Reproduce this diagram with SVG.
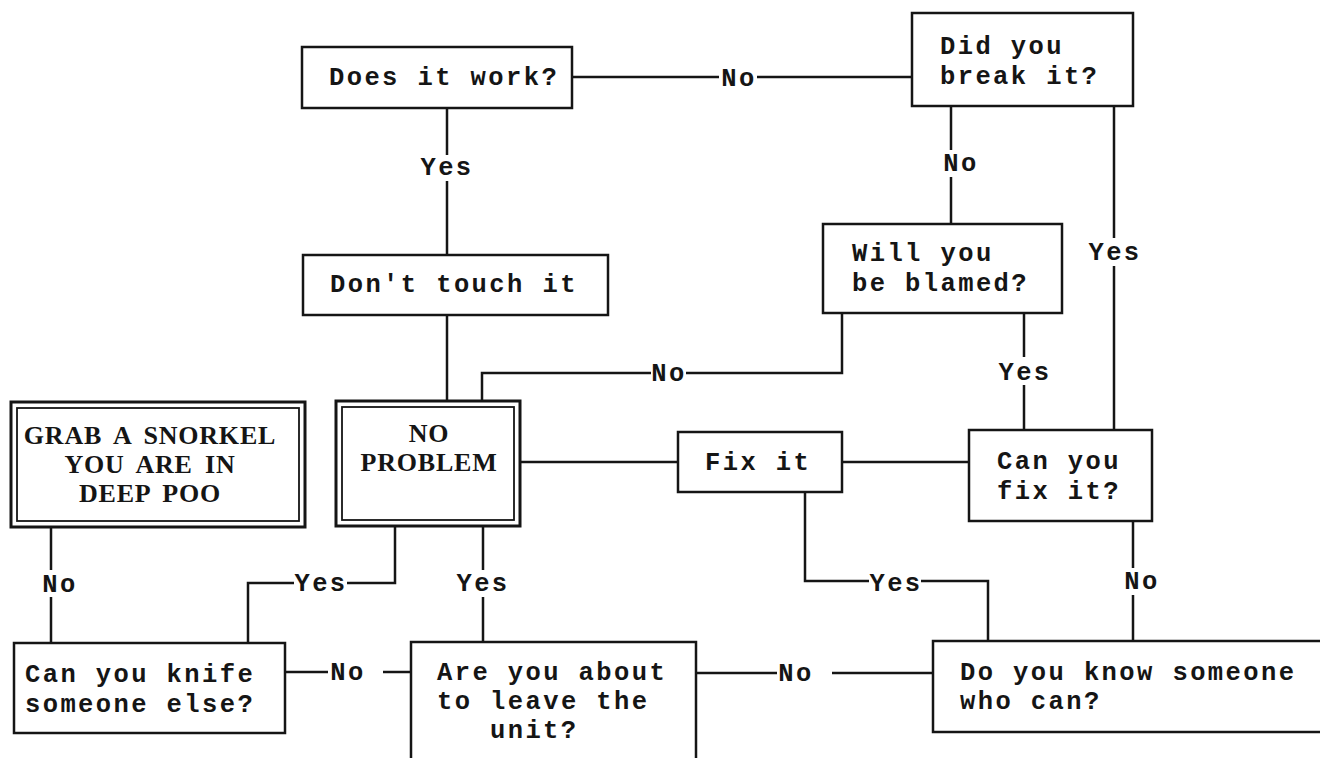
<svg xmlns="http://www.w3.org/2000/svg" width="1320" height="758" viewBox="0 0 1320 758">
<style>
.box{fill:#fff;stroke:#151515;stroke-width:2.5}
.dbl{fill:#fff;stroke:#151515;stroke-width:3}
.dbli{fill:none;stroke:#151515;stroke-width:1.8}
.t{font-family:"Liberation Mono","Courier New",monospace;font-weight:bold;font-size:25.5px;letter-spacing:2.4px;fill:#151515}
.s{font-family:"Liberation Serif","Times New Roman",serif;font-weight:bold;font-size:26px;letter-spacing:0.8px;word-spacing:5px;fill:#151515;text-anchor:middle}
.lbl{font-family:"Liberation Mono","Courier New",monospace;font-weight:bold;font-size:25.5px;letter-spacing:2.4px;fill:#151515;text-anchor:middle}
.c{fill:none;stroke:#151515;stroke-width:2.5}
</style>
<rect width="1320" height="758" fill="#fff"/>
<g id="connectors">
<path class="c" d="M572,77 H719 M757,77 H912"/>
<path class="c" d="M447,108 V155 M447,181 V255"/>
<path class="c" d="M447,315 V402"/>
<path class="c" d="M951,106 V150 M951,177 V224"/>
<path class="c" d="M1114,106 V238 M1114,266 V430"/>
<path class="c" d="M842,313 V373 H686 M651,373 H482 V402"/>
<path class="c" d="M1024,313 V357 M1024,385 V430"/>
<path class="c" d="M520,462 H678"/>
<path class="c" d="M842,462 H969"/>
<path class="c" d="M805,492 V581 H869 M921,581 H988 V641"/>
<path class="c" d="M1133,521 V568 M1133,595 V641"/>
<path class="c" d="M395,526 V583 H347 M294,583 H248 V643"/>
<path class="c" d="M483,526 V570 M483,597 V642"/>
<path class="c" d="M51,527 V570 M51,597 V643"/>
<path class="c" d="M285,672 H328 M383,672 H411"/>
<path class="c" d="M696,673 H777 M832,673 H933"/>
<text class="lbl" x="739" y="86">No</text>
<text class="lbl" x="447" y="175">Yes</text>
<text class="lbl" x="961" y="171">No</text>
<text class="lbl" x="1115" y="260">Yes</text>
<text class="lbl" x="669" y="381">No</text>
<text class="lbl" x="1025" y="380">Yes</text>
<text class="lbl" x="896" y="591">Yes</text>
<text class="lbl" x="1142" y="589">No</text>
<text class="lbl" x="321" y="591">Yes</text>
<text class="lbl" x="483" y="591">Yes</text>
<text class="lbl" x="60" y="592">No</text>
<text class="lbl" x="348" y="680">No</text>
<text class="lbl" x="796" y="681">No</text>
</g>
<g id="does-it-work">
<rect class="box" x="302" y="47" width="270" height="61"/>
<text class="t" x="329" y="85">Does it work?</text>
</g>
<g id="did-you-break-it">
<rect class="box" x="912" y="13" width="221" height="93"/>
<text class="t" x="940" y="54">Did you</text>
<text class="t" x="940" y="84">break it?</text>
</g>
<g id="dont-touch-it">
<rect class="box" x="303" y="255" width="305" height="60"/>
<text class="t" x="330" y="292">Don't touch it</text>
</g>
<g id="will-you-be-blamed">
<rect class="box" x="823" y="224" width="239" height="89"/>
<text class="t" x="852" y="261">Will you</text>
<text class="t" x="852" y="291">be blamed?</text>
</g>
<g id="no-problem">
<rect class="dbl" x="336" y="401" width="184" height="125"/>
<rect class="dbli" x="342" y="407" width="172" height="113"/>
<text class="s" x="429" y="442">NO</text>
<text class="s" x="429" y="471">PROBLEM</text>
</g>
<g id="grab-a-snorkel">
<rect class="dbl" x="11" y="402" width="294" height="125"/>
<rect class="dbli" x="17" y="408" width="282" height="113"/>
<text class="s" x="150" y="444">GRAB A SNORKEL</text>
<text class="s" x="150" y="473">YOU ARE IN</text>
<text class="s" x="150" y="502">DEEP POO</text>
</g>
<g id="fix-it">
<rect class="box" x="678" y="432" width="164" height="60"/>
<text class="t" x="705" y="470">Fix it</text>
</g>
<g id="can-you-fix-it">
<rect class="box" x="969" y="430" width="183" height="91"/>
<text class="t" x="997" y="469">Can you</text>
<text class="t" x="997" y="499">fix it?</text>
</g>
<g id="can-you-knife">
<rect class="box" x="14" y="643" width="271" height="90"/>
<text class="t" x="25" y="682">Can you knife</text>
<text class="t" x="25" y="712">someone else?</text>
</g>
<g id="are-you-about-to-leave">
<rect class="box" x="411" y="642" width="285" height="130"/>
<text class="t" x="437" y="680">Are you about</text>
<text class="t" x="437" y="709">to leave the</text>
<text class="t" x="490" y="738">unit?</text>
</g>
<g id="do-you-know-someone">
<rect class="box" x="933" y="641" width="400" height="91"/>
<text class="t" x="960" y="680">Do you know someone</text>
<text class="t" x="960" y="709">who can?</text>
</g>
</svg>
